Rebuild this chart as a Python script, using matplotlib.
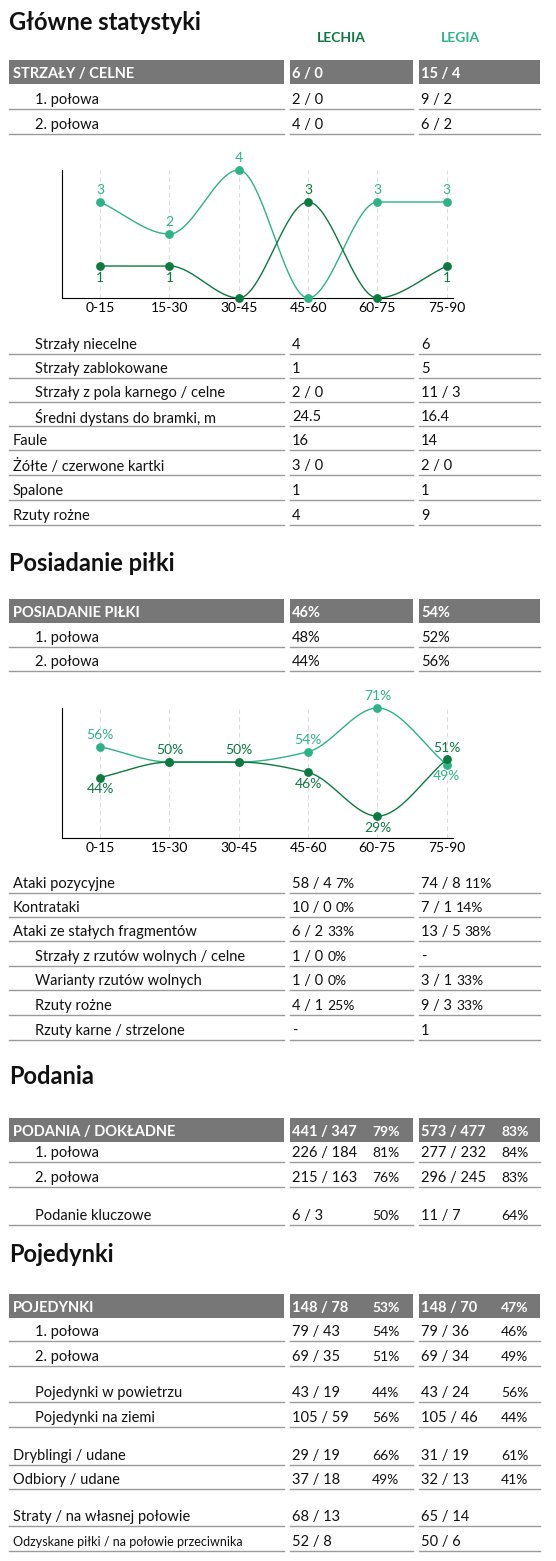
import matplotlib
matplotlib.use("Agg")
import matplotlib.pyplot as plt
import numpy as np

plt.rcParams['font.family'] = ['Lato', 'DejaVu Sans']

W, H = 556, 1561
LECHIA_C = "#0b7a3f"
LEGIA_C = "#2db386"
GRAY = "#777777"
LINE = "#9a9a9a"

periods = ["0-15", "15-30", "30-45", "45-60", "60-75", "75-90"]
shots_lechia = [1, 1, 0, 3, 0, 1]
shots_legia = [3, 2, 4, 0, 3, 3]
poss_lechia = [44, 50, 50, 46, 29, 51]
poss_legia = [56, 50, 50, 54, 71, 49]

# (label, indent, lechia, lechia_pct, legia, legia_pct, y_center)
header1 = ("STRZAŁY / CELNE", "6 / 0", "15 / 4", 72)
rows1 = [
    ("1. połowa", 1, "2 / 0", "", "9 / 2", "", 100),
    ("2. połowa", 1, "4 / 0", "", "6 / 2", "", 125),
    ("Strzały niecelne", 1, "4", "", "6", "", 345),
    ("Strzały zablokowane", 1, "1", "", "5", "", 369),
    ("Strzały z pola karnego / celne", 1, "2 / 0", "", "11 / 3", "", 393),
    ("Średni dystans do bramki, m", 1, "24.5", "", "16.4", "", 417),
    ("Faule", 0, "16", "", "14", "", 441),
    ("Żółte / czerwone kartki", 0, "3 / 0", "", "2 / 0", "", 466),
    ("Spalone", 0, "1", "", "1", "", 491),
    ("Rzuty rożne", 0, "4", "", "9", "", 516),
]
header2 = ("POSIADANIE PIŁKI", "46%", "54%", 611)
rows2 = [
    ("1. połowa", 1, "48%", "", "52%", "", 638),
    ("2. połowa", 1, "44%", "", "56%", "", 662),
    ("Ataki pozycyjne", 0, "58 / 4", "7%", "74 / 8", "11%", 884),
    ("Kontrataki", 0, "10 / 0", "0%", "7 / 1", "14%", 908),
    ("Ataki ze stałych fragmentów", 0, "6 / 2", "33%", "13 / 5", "38%", 932),
    ("Strzały z rzutów wolnych / celne", 1, "1 / 0", "0%", "-", "", 957),
    ("Warianty rzutów wolnych", 1, "1 / 0", "0%", "3 / 1", "33%", 981),
    ("Rzuty rożne", 1, "4 / 1", "25%", "9 / 3", "33%", 1006),
    ("Rzuty karne / strzelone", 1, "-", "", "1", "", 1031),
]
header3 = ("PODANIA / DOKŁADNE", "441 / 347", "573 / 477", 1130, "79%", "83%")
rows3 = [
    ("1. połowa", 1, "226 / 184", "81%", "277 / 232", "84%", 1153),
    ("2. połowa", 1, "215 / 163", "76%", "296 / 245", "83%", 1178),
    ("Podanie kluczowe", 1, "6 / 3", "50%", "11 / 7", "64%", 1216),
]
header4 = ("POJEDYNKI", "148 / 78", "148 / 70", 1306, "53%", "47%")
rows4 = [
    ("1. połowa", 1, "79 / 43", "54%", "79 / 36", "46%", 1332),
    ("2. połowa", 1, "69 / 35", "51%", "69 / 34", "49%", 1357),
    ("Pojedynki w powietrzu", 1, "43 / 19", "44%", "43 / 24", "56%", 1393),
    ("Pojedynki na ziemi", 1, "105 / 59", "56%", "105 / 46", "44%", 1418),
    ("Dryblingi / udane", 0, "29 / 19", "66%", "31 / 19", "61%", 1456),
    ("Odbiory / udane", 0, "37 / 18", "49%", "32 / 13", "41%", 1480),
    ("Straty / na własnej połowie", 0, "68 / 13", "", "65 / 14", "", 1517),
    ("Odzyskane piłki / na połowie przeciwnika", 0, "52 / 8", "", "50 / 6", "", 1542),
]

fig = plt.figure(figsize=(W / 100, H / 100), dpi=100)
ax = fig.add_axes([0, 0, 1, 1])
ax.set_xlim(0, W)
ax.set_ylim(H, 0)
ax.axis("off")
renderer = fig.canvas.get_renderer()

COLS = [(9, 284), (290, 413), (419, 540)]
FS = 10.5


def put(x, y, s, **kw):
    kw.setdefault("fontsize", FS)
    kw.setdefault("color", "#111111")
    return ax.text(x, y, s, va="center", ha="left", **kw)


def value(col, y, v, pct, offset, **kw):
    t = put(COLS[col][0] + 2, y, v, **kw)
    if pct:
        bb = t.get_window_extent(renderer)
        px = max(COLS[col][0] + offset, bb.x1 + 4)
        put(px, y, pct, **{**kw, "fontsize": kw.get("fontsize", FS) - 0.5})


def header(h, offset):
    y = h[3]
    for x0, x1 in COLS:
        ax.add_patch(plt.Rectangle((x0, y - 12), x1 - x0, 24, color=GRAY, lw=0))
    kw = dict(color="white", fontweight="bold")
    put(COLS[0][0] + 4, y + 2, h[0], **kw)
    value(1, y + 2, h[1], h[4] if len(h) > 4 else "", offset, **kw)
    value(2, y + 2, h[2], h[5] if len(h) > 5 else "", offset, **kw)


def rows(rs, offset):
    for lab, ind, v1, p1, v2, p2, y in rs:
        fs = 9 if len(lab) > 35 else FS
        put(COLS[0][0] + 4 + ind * 22, y, lab, fontsize=fs)
        value(1, y, v1, p1, offset)
        value(2, y, v2, p2, offset)
        for x0, x1 in COLS:
            ax.plot([x0, x1], [y + 9, y + 9], color=LINE, lw=1)


def title(y, s):
    ax.text(9, y, s, fontsize=17, fontweight="bold", va="center", color="#111111")


def monotone(xs, ys, n=40):
    xs = np.asarray(xs, float); ys = np.asarray(ys, float)
    h = np.diff(xs); d = np.diff(ys) / h
    m = np.zeros(len(xs))
    m[0], m[-1] = d[0], d[-1]
    for i in range(1, len(xs) - 1):
        if d[i - 1] * d[i] > 0:
            m[i] = 2 / (1 / d[i - 1] + 1 / d[i])
    px, py = [], []
    for i in range(len(xs) - 1):
        t = np.linspace(0, 1, n)
        h00 = 2 * t**3 - 3 * t**2 + 1; h10 = t**3 - 2 * t**2 + t
        h01 = -2 * t**3 + 3 * t**2; h11 = t**3 - t**2
        px.extend(xs[i] + t * h[i])
        py.extend(h00 * ys[i] + h10 * h[i] * m[i] + h01 * ys[i + 1] + h11 * h[i] * m[i + 1])
    return np.array(px), np.array(py)


def chart(rect, ylim, a, b, fmt):
    cax = fig.add_axes(rect)
    x = np.arange(len(periods))
    for xi in x:
        cax.axvline(xi, color="#dddddd", lw=0.8, ls=(0, (4, 3)), zorder=0)
    for vals, col in ((b, LEGIA_C), (a, LECHIA_C)):
        sx, sy = monotone(x, vals)
        cax.plot(sx, sy, color=col, lw=1, clip_on=False)
        cax.scatter(x, vals, color=col, s=28, zorder=3, clip_on=False)
    rng = ylim[1] - ylim[0]
    for xi, va_, vb in zip(x, a, b):
        if va_ == vb:
            cax.text(xi, va_ + 0.09 * rng, fmt % va_, color=LECHIA_C, ha="center", va="center", fontsize=10)
            continue
        up = va_ > vb
        if va_ != 0:
            cax.text(xi, va_ + (0.09 if up else -0.09) * rng, fmt % va_, color=LECHIA_C,
                     ha="center", va="center", fontsize=10)
        if vb != 0:
            cax.text(xi, vb + (-0.09 if up else 0.09) * rng, fmt % vb, color=LEGIA_C,
                     ha="center", va="center", fontsize=10)
    cax.set_ylim(*ylim)
    cax.set_xlim(-0.55, 5.09)
    cax.set_xticks(x, periods, fontsize=10)
    cax.tick_params(length=0, pad=3)
    cax.set_yticks([])
    for s in ("top", "right"):
        cax.spines[s].set_visible(False)
    cax.set_facecolor("none")


title(22, "Główne statystyki")
put(317, 38, "LECHIA", color=LECHIA_C, fontweight="bold", fontsize=10)
put(441, 38, "LEGIA", color=LEGIA_C, fontweight="bold", fontsize=10)
header(header1, 30)
rows(rows1, 30)
chart([62 / W, 1 - 298 / H, 391 / W, 128 / H], (0, 4), shots_lechia, shots_legia, "%d")

title(563, "Posiadanie piłki")
header(header2, 29)
rows(rows2, 29)
chart([62 / W, 1 - 838 / H, 391 / W, 130 / H], (20.5, 71), poss_lechia, poss_legia, "%d%%")

title(1077, "Podania")
header(header3, 82)
rows(rows3, 82)

title(1254, "Pojedynki")
header(header4, 82)
rows(rows4, 82)

fig.savefig("out.png", dpi=100)
